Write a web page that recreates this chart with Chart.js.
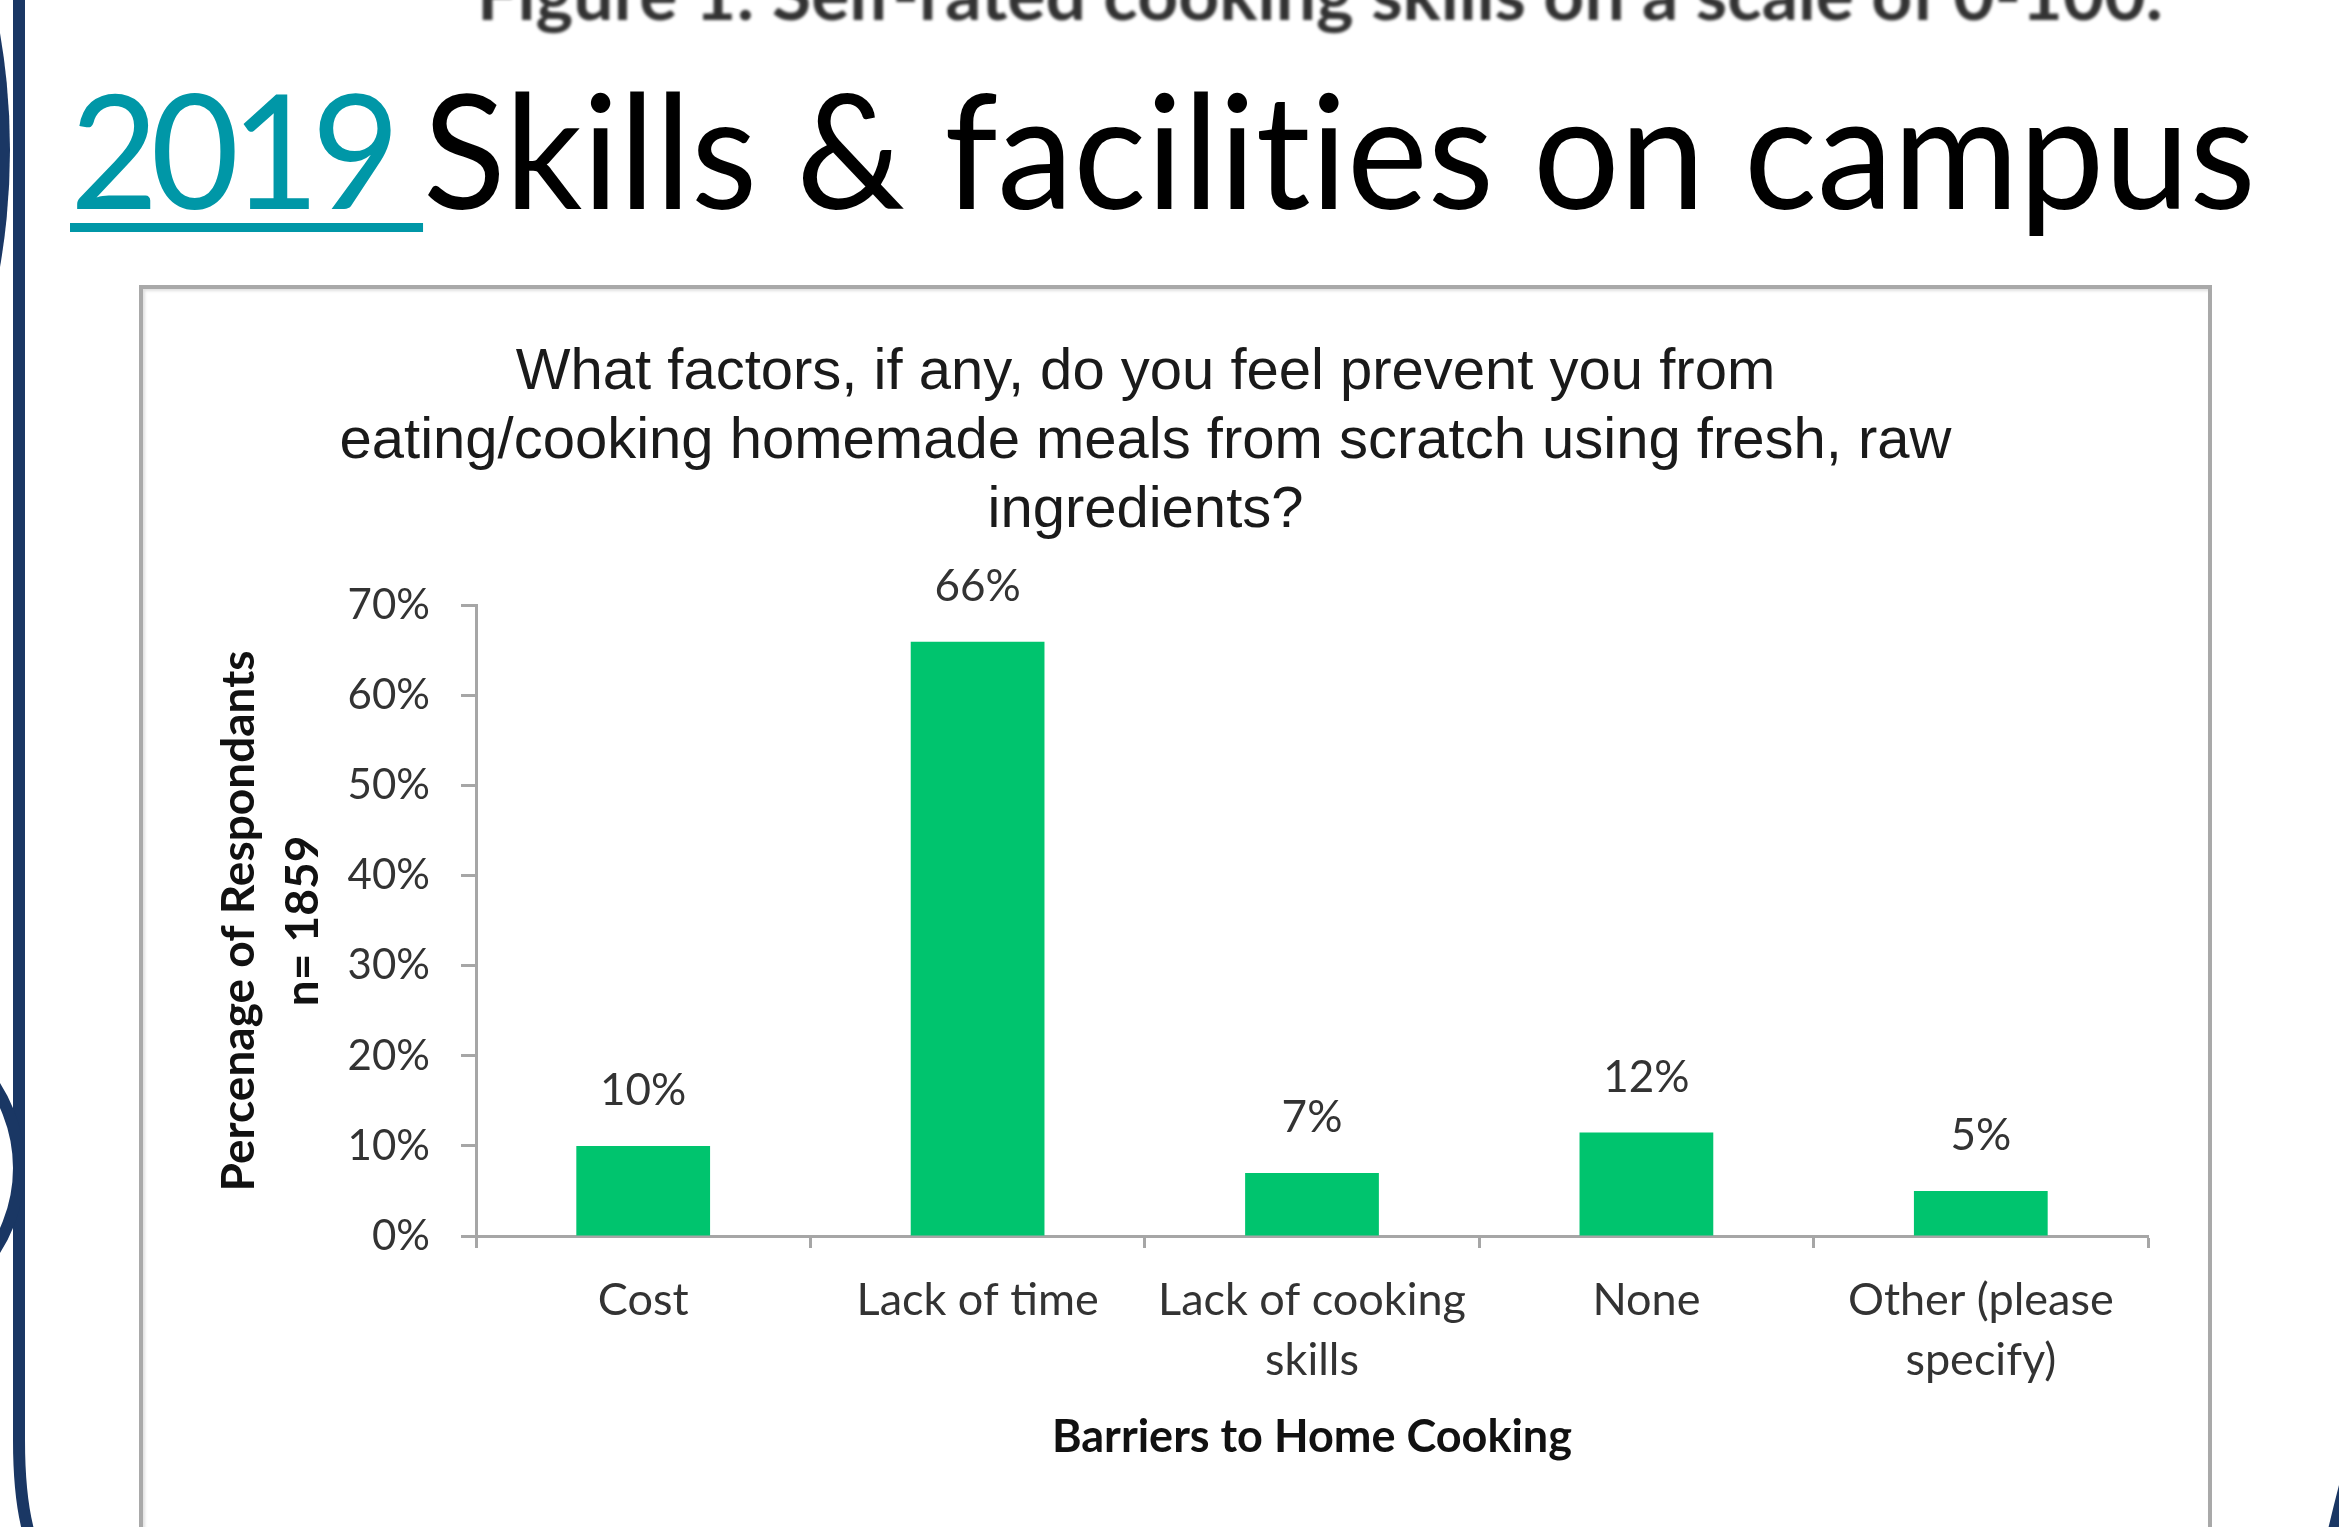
<!DOCTYPE html>
<html lang="en">
<head>
    <meta charset="UTF-8">
    <title>2019 Skills & facilities on campus</title>
    <script src="https://cdn.jsdelivr.net/npm/chart.js"></script>
    <style>
        html, body {
            margin: 0;
            padding: 0;
        }
        body {
            width: 2339px;
            height: 1527px;
            overflow: hidden;
            position: relative;
            background: #fff;
            font-family: Lato, sans-serif;
        }
        .deco {
            position: absolute;
            left: 0;
            top: 0;
        }
        .caption {
            position: absolute;
            left: 477px;
            top: -43px;
            margin: 0;
            font: bold 71.5px/1 Lato, sans-serif;
            color: #333;
            white-space: nowrap;
            filter: blur(1.6px);
        }
        h1 {
            position: absolute;
            left: 70px;
            top: 67px;
            margin: 0;
            font: 400 160px/1 Lato, sans-serif;
            font-variant-ligatures: none;
            color: #000;
            white-space: nowrap;
            transform: scaleX(0.955);
            transform-origin: left top;
        }
        h1 .year {
            color: #0097a7;
            letter-spacing: -8.5px;
            text-decoration: underline;
            text-decoration-thickness: 9px;
            text-underline-offset: 14px;
        }
        .chart-box {
            position: absolute;
            left: 139px;
            top: 285px;
            width: 2065px;
            height: 1400px;
            border: 4px solid #a9a9a9;
            box-shadow: inset 2px 2px 3px rgba(0, 0, 0, 0.12);
            background: #fff;
        }
        #grafico {
            display: block;
        }
    </style>
</head>
<body>

<svg class="deco" width="2339" height="1527">
    <path d="M -680 150 m -690 0 a 690 690 0 1 0 1380 0 a 690 690 0 1 0 -1380 0" fill="#1a3764"/>
    <path d="M 19 0 L 19 1440 Q 19 1495 28 1530" stroke="#1a3764" stroke-width="12" fill="none"/>
    <circle cx="-132" cy="1168" r="151" stroke="#1a3764" stroke-width="12" fill="none"/>
    <path d="M 2346 1478 Q 2339 1505 2333 1530" stroke="#1a3764" stroke-width="10" fill="none"/>
</svg>

<p class="caption">Figure 1: Self-rated cooking skills on a scale of 0-100.</p>

<h1><span class="year">2019 </span>Skills &amp; facilities on campus</h1>

<div class="chart-box">
    <canvas id="grafico" width="2065" height="1238"></canvas>
</div>

<script>
    // datos del gráfico
    const categorias = ['Cost', 'Lack of time', ['Lack of cooking', 'skills'], 'None', ['Other (please', 'specify)']];
    const porcentajes = [10, 66, 7, 11.5, 5];
    const tituloGrafico = [
        'What factors, if any, do you feel prevent you from',
        'eating/cooking homemade meals from scratch using fresh, raw',
        'ingredients?'
    ];
    const tituloEjeY = ['Percenage of Respondants', 'n= 1859'];
    const tituloEjeX = 'Barriers to Home Cooking';

    const gris = '#a6a6a6';
    const texto = '#333333';

    // etiquetas encima de cada barra
    const etiquetasBarras = {
        id: 'etiquetasBarras',
        afterDatasetsDraw(chart) {
            let ctx = chart.ctx;
            let meta = chart.getDatasetMeta(0);
            ctx.save();
            ctx.font = '44px Lato, sans-serif';
            ctx.fillStyle = texto;
            ctx.textAlign = 'center';
            ctx.textBaseline = 'middle';
            meta.data.forEach((bar, i) => {
                ctx.fillText(Math.round(porcentajes[i]) + '%', bar.x, bar.y - 55);
            });
            ctx.restore();
        }
    };

    let ctx = document.getElementById('grafico').getContext('2d');

    let chart = new Chart(ctx, {
        type: 'bar',
        data: {
            labels: categorias,
            datasets: [{
                data: porcentajes,
                backgroundColor: '#00c46e',
                borderWidth: 0,
                barPercentage: 0.4,
                categoryPercentage: 1
            }]
        },
        options: {
            responsive: false,
            animation: false,
            layout: {
                padding: { left: 0, right: 60, top: 0, bottom: 0 }
            },
            scales: {
                x: {
                    afterFit: (axis) => { axis.height = 291; },
                    grid: {
                        drawOnChartArea: false,
                        drawTicks: true,
                        tickLength: 12,
                        tickWidth: 3,
                        tickColor: gris
                    },
                    border: { color: gris, width: 3 },
                    ticks: {
                        padding: 22,
                        color: texto,
                        maxRotation: 0,
                        autoSkip: false,
                        font: { family: 'Lato, sans-serif', size: 45, lineHeight: 1.34 }
                    },
                    title: {
                        display: true,
                        text: tituloEjeX,
                        color: '#111',
                        padding: { top: 0, bottom: 63 },
                        font: { family: 'Lato, sans-serif', size: 45, weight: 'bold', lineHeight: 1.2 }
                    }
                },
                y: {
                    min: 0,
                    max: 70,
                    afterFit: (axis) => { axis.width = 333; },
                    grid: {
                        drawOnChartArea: false,
                        drawTicks: true,
                        tickLength: 15,
                        tickWidth: 3,
                        tickColor: gris
                    },
                    border: { color: gris, width: 3 },
                    ticks: {
                        stepSize: 10,
                        padding: 31,
                        color: texto,
                        font: { family: 'Lato, sans-serif', size: 42 },
                        callback: (v) => v + '%'
                    },
                    title: {
                        display: true,
                        text: tituloEjeY,
                        color: '#111',
                        padding: { top: 64, bottom: 0 },
                        font: { family: 'Lato, sans-serif', size: 46, weight: 'bold', lineHeight: 1.39 }
                    }
                }
            },
            plugins: {
                legend: { display: false },
                tooltip: { enabled: false },
                title: {
                    display: true,
                    text: tituloGrafico,
                    color: '#1a1a1a',
                    padding: { top: 50, bottom: 61 },
                    font: { family: '"Liberation Sans", Arial, sans-serif', size: 58, weight: 'normal', lineHeight: 1.183 }
                }
            }
        },
        plugins: [etiquetasBarras]
    });
</script>

</body>
</html>
